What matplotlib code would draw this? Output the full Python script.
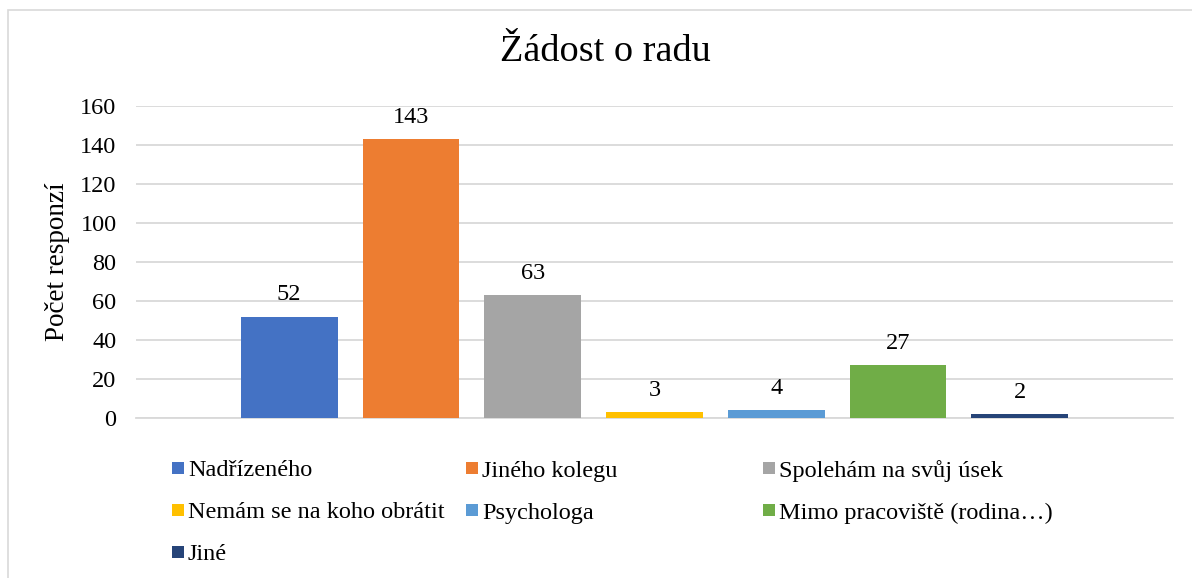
import matplotlib
matplotlib.use("Agg")
import matplotlib.pyplot as plt
from matplotlib.patches import Rectangle

categories = ["Nadřízeného", "Jiného kolegu", "Spolehám na svůj úsek",
              "Nemám se na koho obrátit", "Psychologa",
              "Mimo pracoviště (rodina…)", "Jiné"]
values = [52, 143, 63, 3, 4, 27, 2]
colors = ["#4472C4", "#ED7D31", "#A5A5A5", "#FFC000", "#5B9BD5", "#70AD47", "#264478"]
yticks = [0, 20, 40, 60, 80, 100, 120, 140, 160]
title = "Žádost o radu"
ylabel = "Počet responzí"

plt.rcParams["font.family"] = ["Liberation Serif", "DejaVu Serif"]

W, H = 1192, 578
fig = plt.figure(figsize=(W / 100, H / 100), dpi=100)

# outer chart border
fig.patches.append(Rectangle((8 / W, -0.1), 1.2, (H - 10) / H + 0.1, transform=fig.transFigure,
                             fill=False, edgecolor="#D9D9D9", linewidth=1.2))

left, right, top, bottom = 136, 1173, 106, 418
ax = fig.add_axes([left / W, 1 - bottom / H, (right - left) / W, (bottom - top) / H])

FS = 17.5
x = list(range(len(values)))
bars = ax.bar(x, values, width=0.795, color=colors, zorder=3)
for xi, v in zip(x, values):
    ax.annotate(str(v), (xi, v), xytext=(0, 8), textcoords="offset points",
                ha="center", va="bottom", fontsize=FS, color="#000000")

ax.set_xlim(-1.258, 7.258)
ax.set_ylim(0, 160)
ax.set_yticks(yticks)
ax.set_yticklabels([str(t) for t in yticks], fontsize=FS)
ax.set_xticks([])
ax.tick_params(axis="y", length=0, pad=14)
ax.grid(axis="y", color="#D9D9D9", linewidth=1.3, zorder=0)
for s in ["top", "right", "left"]:
    ax.spines[s].set_visible(False)
ax.spines["bottom"].set_color("#D9D9D9")
ax.spines["bottom"].set_linewidth(1.3)

fig.text(57 / W, 1 - 262 / H, ylabel, rotation=90, ha="center", va="center", fontsize=19.5)
fig.text(605 / W, 1 - 52 / H, title, ha="center", va="center", fontsize=27.5)

# legend laid out as Excel does: equal-width columns, row-major order
col_x = [172, 466, 763]
row_y = [468, 510, 552]
ncol = 3
for i, (lab, col) in enumerate(zip(categories, colors)):
    r, c = divmod(i, ncol)
    mx, my = col_x[c], row_y[r]
    fig.patches.append(Rectangle((mx / W, 1 - (my + 6) / H), 12 / W, 12 / H,
                                 transform=fig.transFigure, facecolor=col, edgecolor="none"))
    fig.text((mx + 16) / W, 1 - (my + 8.5) / H, lab, ha="left", va="baseline", fontsize=FS)

fig.savefig("out.png", dpi=100)
